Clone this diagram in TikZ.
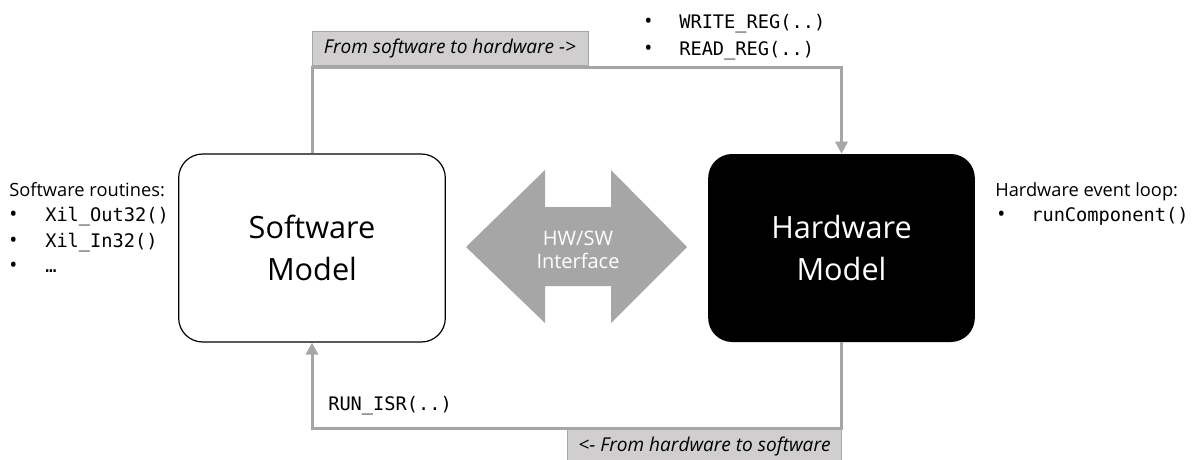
\documentclass[tikz,border=0pt]{standalone}
\usepackage{fontspec}
\setmainfont{Open Sans}
\newfontfamily\codefont{DejaVu Sans Mono}
\usetikzlibrary{arrows.meta}
\definecolor{lgray}{HTML}{A6A6A6}
\definecolor{lblfill}{HTML}{D0CECE}
\begin{document}
\begin{tikzpicture}[x=0.75pt,y=-0.75pt,
  model/.style={rectangle, rounded corners=18pt, minimum width=200pt, minimum height=141pt, align=center, font=\fontsize{23}{32}\selectfont, inner sep=0pt},
  conn/.style={draw=lgray, line width=2.25pt, -{Triangle[length=9pt,width=9pt]}},
  lbl/.style={fill=lblfill, draw=lgray, line width=0.6pt, font=\fontsize{14.3}{16}\selectfont\itshape, inner sep=0pt, minimum height=25.5pt},
  txt/.style={anchor=base west, font=\fontsize{13.7}{16}\selectfont, inner sep=0pt},
  bul/.style={anchor=base west, font=\fontsize{16}{16}\selectfont, inner sep=0pt},
  code/.style={anchor=base west, font=\codefont\fontsize{14}{16}\selectfont, inner sep=0pt}]
\useasboundingbox (0,0) rectangle (1195,460);

% models
\node[model, draw=black, line width=0.9pt, fill=white] (sw) at (312,248) {Software\\Model};
\node[model, fill=black, text=white] (hw) at (841.5,248) {Hardware\\Model};

% HW/SW interface double arrow
\fill[lgray] (466,247) -- (545,170) -- (545,207) -- (611,207) -- (611,170) -- (687,247)
  -- (611,323) -- (611,286) -- (545,286) -- (545,323) -- cycle;
\node[text=white, align=center, font=\fontsize{15}{17.25}\selectfont, inner sep=0pt] (iface) at (578,250) {HW/SW\\Interface};

% connectors
\coordinate (topy) at (0,68);
\coordinate (boty) at (0,428);
\draw[conn] (sw.north) |- (topy -| hw.north) -- (hw.north);
\draw[conn] (hw.south) |- (boty -| sw.south) -- (sw.south);

% connector labels
\node[lbl, minimum width=207pt] (l1) at (450,48) {From software to hardware ->};
\node[lbl, minimum width=206pt] (l2) at (704.5,446) {<- From hardware to software};

% top right
\node[bul] (b1) at (644,29) {•};
\node[code] (wr) at (679,29) {WRITE\_REG(..)};
\node[bul] (b2) at (644,56) {•};
\node[code] (rd) at (679,56) {READ\_REG(..)};

% bottom
\node[code] (isr) at (328,410) {RUN\_ISR(..)};

% left text
\node[txt] (swr) at (9,196) {Software routines:};
\node[bul] (b3) at (9,221) {•};
\node[code] (x1) at (45,221) {Xil\_Out32()};
\node[bul] (b4) at (9,247) {•};
\node[code] (x2) at (45,247) {Xil\_In32()};
\node[bul] (b5) at (9,272) {•};
\node[code] (x3) at (45,272) {…};

% right text
\node[txt] (hwl) at (995,196) {Hardware event loop:};
\node[bul] (b6) at (997,221) {•};
\node[code] (rc) at (1031,221) {runComponent()};
\end{tikzpicture}
\end{document}
